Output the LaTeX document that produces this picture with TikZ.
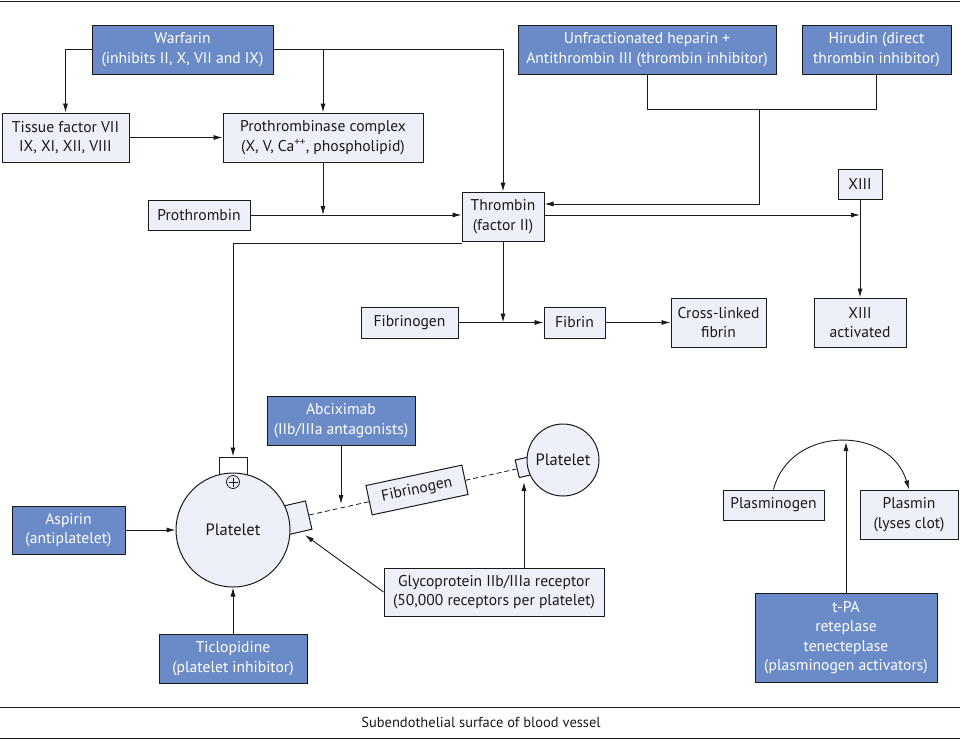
\documentclass[tikz,border=0pt]{standalone}
\usepackage{fontspec}
\setmainfont{PT Sans}
\usetikzlibrary{arrows.meta,calc}
\definecolor{drugblue}{HTML}{6A8BC7}
\definecolor{boxfill}{HTML}{EEF0F9}
\definecolor{ink}{HTML}{1A1A1A}
\begin{document}
\begin{tikzpicture}[x=1pt,y=-1pt,
  every node/.style={font=\fontsize{15.6}{19.5}\selectfont, inner sep=0pt, align=center},
  lbox/.style={draw=ink, line width=1pt, fill=boxfill, text=ink},
  dbox/.style={draw=ink, line width=1pt, fill=drugblue, text=white},
  arr/.style={draw=ink, line width=0.9pt, -{Latex[length=9pt,width=5pt]}},
  ln/.style={draw=ink, line width=0.9pt},
  plt/.style={font=\fontsize{16.5}{20}\selectfont}]
\useasboundingbox (0,0) rectangle (960,740);

% frame lines
\draw[ln] (0,1) -- (960,1);
\draw[ln] (0,707) -- (960,707);
\draw[ln] (0,738) -- (960,738);
\node[font=\fontsize{14.5}{17}\selectfont, text=ink] (surf) at (481,722) {Subendothelial surface of blood vessel};

% top boxes
\node[dbox, minimum width=181, minimum height=49] (warf) at (182.5,49.5) {Warfarin\\(inhibits II, X, VII and IX)};
\node[lbox, minimum width=127, minimum height=49] (tf) at (65.5,137.5) {Tissue factor VII\\IX, XI, XII, VIII};
\node[lbox, minimum width=200, minimum height=49] (ptc) at (323,137.5) {Prothrombinase complex\\(X, V, Ca\textsuperscript{++}, phospholipid)};
\node[lbox, minimum width=102, minimum height=30] (proth) at (199,215) {Prothrombin};
\node[lbox, minimum width=82, minimum height=49] (thr) at (503,216.5) {Thrombin\\(factor II)};
\node[dbox, minimum width=258, minimum height=49] (hep) at (647,49.5) {Unfractionated heparin +\\Antithrombin III (thrombin inhibitor)};
\node[dbox, minimum width=149, minimum height=49] (hir) at (876.5,49.5) {Hirudin (direct\\thrombin inhibitor)};
\node[lbox, minimum width=44, minimum height=30] (xiii) at (860,184) {XIII};
\node[lbox, minimum width=92, minimum height=49] (xiiia) at (860,322.5) {XIII\\activated};
\node[lbox, minimum width=97, minimum height=31] (fgn) at (409.5,322.5) {Fibrinogen};
\node[lbox, minimum width=61, minimum height=31] (fib) at (574.5,322.5) {Fibrin};
\node[lbox, minimum width=95, minimum height=49] (xl) at (718.5,322.5) {Cross-linked\\fibrin};

% connectors top
\draw[arr] (warf.west) -| (tf.north);
\draw[arr] (warf.east) -| (thr.north);
\draw[arr] (ptc.north |- warf.east) -- (ptc.north);
\draw[arr] (tf.east) -- (ptc.west);
\draw[arr] (ptc.south) -- (ptc.south |- proth.east);
\draw[arr] (proth.east) -- (proth.east -| thr.west);
\coordinate (hj) at (759,109);
\draw[ln] (hep.south) |- (hir.south |- hj) -- (hir.south);
\draw[arr] (hj) |- ([yshift=12.5pt]thr.east);
\draw[arr] ([yshift=1.5pt]thr.east) -- ([yshift=1.5pt]thr.east -| xiii.south);
\draw[arr] (xiii.south) -- (xiiia.north);
\draw[arr] (thr.south) -- (thr.south |- fgn.east);
\draw[arr] (fgn.east) -- (fib.west);
\draw[arr] (fib.east) -- (xl.west);

% platelet region
\node[lbox, fill=white, minimum width=28, minimum height=17] (rt) at (233,465.5) {};
\node[lbox, rotate=13, minimum width=26, minimum height=29] (rr) at (296,518) {};
\node[lbox, plt, circle, minimum size=114] (pl) at (233,530) {Platelet};
\draw[ln, line width=0.8pt] (233,482) circle (6.5);
\draw[ln, line width=0.8pt] (228.5,482) -- (237.5,482) (233,477.5) -- (233,486.5);

\node[lbox, rotate=13, minimum width=16, minimum height=18] (sr) at (525,467) {};
\node[lbox, plt, circle, minimum size=72] (pl2) at (563,460) {Platelet};

\draw[ln, dashed, dash pattern=on 5pt off 3pt, line width=0.8pt] (rr.east) -- (sr.west);
\node[lbox, rotate=12, minimum width=98, minimum height=30] (fgn2) at (417,490) {Fibrinogen};

\draw[arr] ([yshift=-2pt]thr.south west) -| (rt.north);

\node[dbox, minimum width=148, minimum height=49] (abc) at (341,420.5) {Abciximab\\(IIb/IIIa antagonists)};
\node[dbox, minimum width=113, minimum height=48] (asp) at (68.5,530) {Aspirin\\(antiplatelet)};
\node[dbox, minimum width=148, minimum height=49] (tic) at (233,658.5) {Ticlopidine\\(platelet inhibitor)};
\node[lbox, minimum width=220, minimum height=48] (gp) at (494,592) {Glycoprotein IIb/IIIa receptor\\(50,000 receptors per platelet)};

\coordinate (abtip) at (341,504);
\coordinate (gptip) at (305,535);
\coordinate (srb) at (524,482);
\draw[arr] (abc.south) -- (abtip);
\draw[arr] (asp.east) -- (pl.west);
\draw[arr] (tic.north) -- (pl.south);
\draw[arr] (gp.west) -- (gptip);
\draw[arr] (gp.north -| srb) -- (srb);

% plasmin region
\node[lbox, minimum width=101, minimum height=30] (plg) at (773.5,505) {Plasminogen};
\node[lbox, minimum width=98, minimum height=49] (pls) at (909,514.5) {Plasmin\\(lyses clot)};
\node[dbox, minimum width=182, minimum height=89] (tpa) at (846,637.5) {t-PA\\reteplase\\tenecteplase\\(plasminogen activators)};
\coordinate (apex) at (846,442);
\draw[arr] (plg.north) .. controls (790,425) and (890,425) .. (pls.north);
\draw[arr] (tpa.north) -- (apex);
\end{tikzpicture}
\end{document}
